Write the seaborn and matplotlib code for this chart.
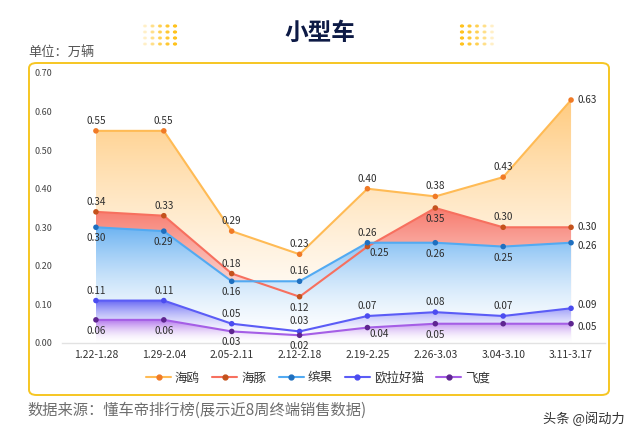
import numpy as np
import pandas as pd
import matplotlib
matplotlib.use("Agg")
import matplotlib.pyplot as plt
import seaborn as sns
from matplotlib.colors import to_rgb
from matplotlib.lines import Line2D
from matplotlib.patches import FancyBboxPatch

# ---------------- data ----------------
weeks = ["1.22-1.28", "1.29-2.04", "2.05-2.11", "2.12-2.18",
         "2.19-2.25", "2.26-3.03", "3.04-3.10", "3.11-3.17"]
brands = ["海鸥", "海豚", "缤果", "欧拉好猫", "飞度"]
haiou = [0.55, 0.55, 0.29, 0.23, 0.40, 0.38, 0.43, 0.63]
haitun = [0.34, 0.33, 0.18, 0.12, 0.25, 0.35, 0.30, 0.30]
binguo = [0.30, 0.29, 0.16, 0.16, 0.26, 0.26, 0.25, 0.26]
oula = [0.11, 0.11, 0.05, 0.03, 0.07, 0.08, 0.07, 0.09]
feidu = [0.06, 0.06, 0.03, 0.02, 0.04, 0.05, 0.05, 0.05]
yticks = [0.0, 0.1, 0.2, 0.3, 0.4, 0.5, 0.6, 0.7]

series = dict(zip(brands, [haiou, haitun, binguo, oula, feidu]))

# ---------------- styles ----------------
line_colors = {"海鸥": "#ffbb55", "海豚": "#f7705f", "缤果": "#52aaf2",
               "欧拉好猫": "#5b5cf6", "飞度": "#a55ee6"}
marker_colors = {"海鸥": "#f07a26", "海豚": "#c4521c", "缤果": "#1f6fbf",
                 "欧拉好猫": "#4b4cf0", "飞度": "#5e2590"}
fill_colors = {"海鸥": "#ffc46e", "海豚": "#f6695a", "缤果": "#5aa9f0",
               "欧拉好猫": "#5050f2", "飞度": "#a35ce8"}
fill_power = {"海鸥": 1.5, "海豚": 1.3, "缤果": 1.7, "欧拉好猫": 2.2, "飞度": 1.8}
label_pos = {
    "海鸥": ["a", "a", "a", "a", "a", "a", "a", "r"],
    "海豚": ["a", "a", "a", "b", "br", "b", "a", "r"],
    "缤果": ["b", "b", "b", "a", "a", "b", "b", "rb"],
    "欧拉好猫": ["a", "a", "a", "a", "a", "a", "a", "ra"],
    "飞度": ["b", "b", "b", "b", "br", "b", None, "rb"],
}
PX = 0.72  # points per pixel at 100 dpi
offsets = {"a": (0, 10, "center"), "b": (0, -11, "center"),
           "br": (12, -6, "center"), "r": (6, 0, "left"),
           "ra": (6, 3, "left"), "rb": (6, -3, "left")}

sns.set_theme(style="white")
plt.rcParams["font.family"] = ["Noto Sans CJK SC", "DejaVu Sans"]

fig = plt.figure(figsize=(6.4, 4.38), dpi=100)
fig.patch.set_facecolor("white")

# panel border
border = FancyBboxPatch((29 / 640, (438 - 395) / 438), 580 / 640, 332 / 438,
                        boxstyle="round,pad=0,rounding_size=0.012",
                        transform=fig.transFigure, fill=False,
                        edgecolor="#f6c623", lw=1.4, zorder=0)
fig.patches.append(border)

ax = fig.add_axes([62 / 640, (438 - 343) / 438, 543 / 640, 270 / 438])
ax.set_facecolor("none")

x = np.arange(len(weeks))

# gradient fills
for z, b in enumerate(brands):
    y = np.array(series[b])
    poly = ax.fill_between(x, y, 0, color="none", lw=0)
    path = poly.get_paths()[0]
    n = 256
    t = np.linspace(0, 1, n)
    a = 0.88 * t ** fill_power[b]
    c = np.array(to_rgb(fill_colors[b]))
    img = (1 - a)[:, None] * np.ones(3) + a[:, None] * c
    img = img[:, None, :]
    im = ax.imshow(img, extent=[0, len(weeks) - 1, 0, y.max()], origin="lower",
                   aspect="auto", zorder=1 + z * 0.1, interpolation="bilinear")
    im.set_clip_path(path, ax.transData)

df = pd.DataFrame([(i, b, v) for b in brands for i, v in enumerate(series[b])],
                  columns=["idx", "brand", "value"])
sns.lineplot(data=df, x="idx", y="value", hue="brand", palette=line_colors,
             hue_order=brands, legend=False, lw=1.5, ax=ax, zorder=3)
sns.scatterplot(data=df, x="idx", y="value", hue="brand", palette=marker_colors,
                hue_order=brands, legend=False, s=16, edgecolor="none", ax=ax, zorder=4)

# data labels
for b in brands:
    for i, v in enumerate(series[b]):
        p = label_pos[b][i]
        if p is None:
            continue
        dx, dy, ha = offsets[p]
        ax.annotate(f"{v:.2f}", (i, v), xytext=(dx * PX, dy * PX),
                    textcoords="offset points", ha=ha, va="center",
                    fontsize=7.2, fontweight="medium", color="#2e2e2e", zorder=5)

ax.set_xlim(-0.5, len(weeks) - 0.5)
ax.set_ylim(0, 0.7)
ax.set_xticks(x)
ax.set_xticklabels(weeks, fontsize=7.5, color="#333333", fontweight="medium")
ax.set_yticks(yticks)
ax.set_yticklabels([f"{v:.2f}" for v in yticks], fontsize=6.5, color="#444444",
                   fontweight="medium")
ax.tick_params(axis="both", length=0)
ax.tick_params(axis="y", pad=7)
ax.tick_params(axis="x", pad=5)
ax.set_xlabel("")
ax.set_ylabel("")
for s in ["top", "right", "left"]:
    ax.spines[s].set_visible(False)
ax.spines["bottom"].set_color("#e2e2e2")
ax.spines["bottom"].set_linewidth(1.0)

# legend
handles = [Line2D([0], [0], color=line_colors[b], lw=1.5, marker="o",
                  markersize=3.5, markerfacecolor=marker_colors[b],
                  markeredgecolor=marker_colors[b]) for b in brands]
fig.legend(handles, brands, loc="center", bbox_to_anchor=(0.497, (438 - 378) / 438),
           ncol=5, frameon=False, fontsize=9, handlelength=2.0,
           handletextpad=0.3, columnspacing=1.0, labelcolor="#333333")

# titles and notes
fig.text(0.5, (438 - 33) / 438, "小型车", ha="center", va="center",
         fontsize=17, fontweight="heavy", color="#0d1a45")
fig.text(28 / 640, (438 - 52) / 438, "单位：万辆", ha="left", va="center",
         fontsize=9.5, color="#555555")
fig.text(27 / 640, (438 - 410) / 438, "数据来源：懂车帝排行榜(展示近8周终端销售数据)",
         ha="left", va="center", fontsize=11, color="#6e6e6e", fontweight="medium")
fig.text(625 / 640, (438 - 419) / 438, "头条 @阅动力", ha="right", va="center",
         fontsize=9.5, color="#333333")

# decorative dot grids beside title
for x0, fade_left in [(145, True), (462, False)]:
    for r in range(4):
        for cidx in range(5):
            px = x0 + cidx * 7.5
            py = 26 + r * 6
            frac = cidx / 4 if fade_left else 1 - cidx / 4
            fig.patches.append(plt.Circle((px / 640, (438 - py) / 438), 0.0022,
                                          transform=fig.transFigure,
                                          color="#ffc21a", alpha=0.15 + 0.85 * frac))

fig.savefig("out.png", dpi=100)
